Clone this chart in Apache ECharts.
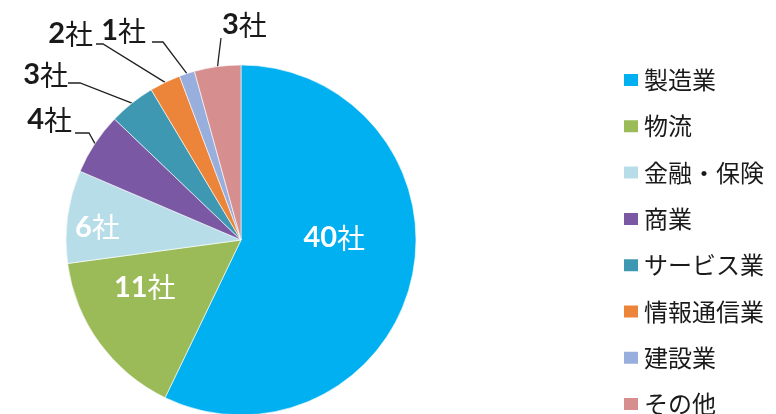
<!DOCTYPE html>
<html>
<head>
<meta charset="utf-8">
<script src="https://cdn.jsdelivr.net/npm/echarts@6/dist/echarts.min.js"></script>
<style>
html,body{margin:0;padding:0;background:#fff;}
#chart{width:776px;height:414px;}
</style>
</head>
<body>
<div id="chart"></div>
<script>
const categories = ['製造業','物流','金融・保険','商業','サービス業','情報通信業','建設業','その他'];
const values = [40, 11, 6, 4, 3, 2, 1, 3];
const unit = '社';
const colors = ['#00B0F0','#9BBB59','#B7DEE8','#7A58A4','#3F98B1','#EC8539','#98AEDC','#D68F8E'];
const insideCount = 3;

// label placement (offsets for inside labels, anchor + elbow for outside labels)
const insideShift = [[5,-22],[-23,-6],[-54,0]];
const outsideLayout = {
  3: {x:72, y:120, align:'right', elbow:[[89,133],[75,133]]},
  4: {x:68, y:75, align:'right', elbow:[[80,83],[68,83]]},
  5: {x:93, y:34, align:'right', elbow:[[103,44],[96,44]]},
  6: {x:146, y:31, align:'right', elbow:[[163,42],[152,42]]},
  7: {x:222, y:25, align:'left', elbow:[[221,38]]}
};

const chart = echarts.init(document.getElementById('chart'), null, {renderer:'canvas'});

const data = categories.map((name, i) => {
  const inside = i < insideCount;
  return {
    name: name,
    value: values[i],
    itemStyle: {color: colors[i]},
    label: {
      position: inside ? 'inside' : 'outside',
      rich: {
        n: {fontFamily:'Lato, "Liberation Sans", sans-serif', fontWeight:'bold', fontSize:29, color: inside ? '#ffffff' : '#1a1a1a'},
        s: {fontFamily:'"Noto Sans CJK JP", sans-serif', fontSize:28, color: inside ? '#ffffff' : '#1a1a1a'}
      }
    },
    labelLine: {show: !inside}
  };
});

chart.setOption({
  animation: false,
  backgroundColor: '#ffffff',
  color: colors,
  legend: {
    orient: 'vertical',
    left: 622,
    top: 68,
    height: 360,
    padding: 0,
    itemWidth: 16,
    itemHeight: 14,
    itemGap: 22.3,
    selectedMode: false,
    icon: 'rect',
    data: categories,
    textStyle: {
      fontFamily: '"Noto Sans CJK JP", sans-serif',
      fontSize: 24,
      lineHeight: 20,
      color: '#1a1a1a',
      padding: [0,0,4,0]
    }
  },
  series: [{
    type: 'pie',
    center: [241, 240],
    radius: 175,
    startAngle: 90,
    clockwise: true,
    avoidLabelOverlap: false,
    itemStyle: {borderColor:'#ffffff', borderWidth:0.6},
    label: {
      show: true,
      formatter: p => '{n|' + p.value + '}{s|' + unit + '}'
    },
    labelLine: {
      show: true,
      length: 10,
      length2: 10,
      lineStyle: {color:'#222222', width:1.3}
    },
    labelLayout: function (params) {
      const i = params.dataIndex;
      if (i < insideCount) {
        return {dx: insideShift[i][0], dy: insideShift[i][1]};
      }
      const L = outsideLayout[i];
      if (!L) return {};
      const start = params.labelLinePoints ? params.labelLinePoints[0] : null;
      const res = {x: L.x, y: L.y, align: L.align, verticalAlign: 'middle'};
      if (start) res.labelLinePoints = [start].concat(L.elbow);
      return res;
    },
    data: data
  }]
});
</script>
</body>
</html>
